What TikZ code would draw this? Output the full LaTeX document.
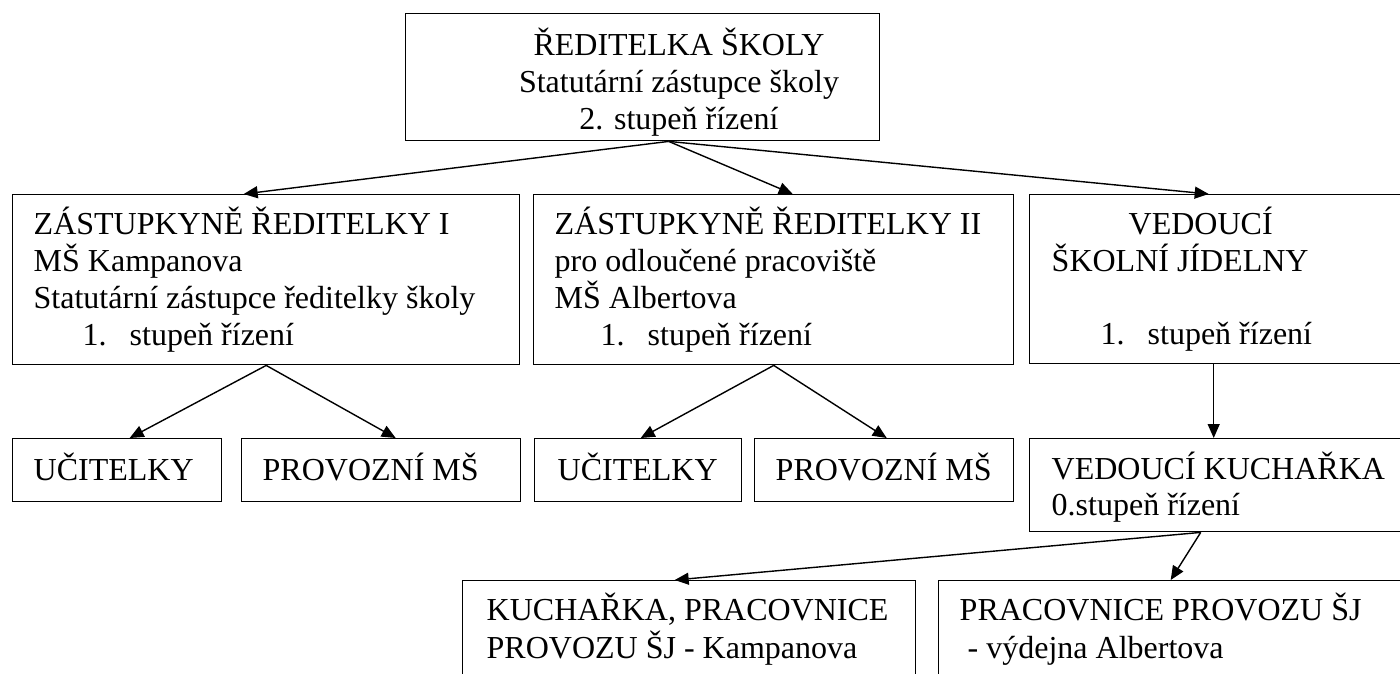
\documentclass[tikz,border=0pt]{standalone}
\usepackage{fontspec}
\setmainfont{Liberation Serif}
\usetikzlibrary{arrows.meta}

\begin{document}
\begin{tikzpicture}
[x=1pt,y=-1pt,line width=1.4pt,>={Triangle[length=14pt,width=12pt]},
 box/.style={draw,rectangle,anchor=north west,inner sep=0pt},
 txt/.style={anchor=base west,inner sep=0pt,font=\fontsize{32}{37}\selectfont}]
\def \step {37} % line distance
\def \num {\makebox[47pt][l]{1.}}
\useasboundingbox (0,0) rectangle (1400,673);
\clip (0,0) rectangle (1400,673);

% boxes
\node[box,minimum width=474pt,minimum height=127pt] (reditelka) at (405,13) {};
\node[box,minimum width=507pt,minimum height=170pt] (zast1) at (12,194) {};
\node[box,minimum width=480pt,minimum height=170pt] (zast2) at (533,194) {};
\node[box,minimum width=420pt,minimum height=169pt] (jidelna) at (1029,194) {};
\node[box,minimum width=209pt,minimum height=63pt] (ucitelky1) at (12,438) {};
\node[box,minimum width=279pt,minimum height=63pt] (provozni1) at (241,438) {};
\node[box,minimum width=207pt,minimum height=63pt] (ucitelky2) at (534,438) {};
\node[box,minimum width=259pt,minimum height=63pt] (provozni2) at (754,438) {};
\node[box,minimum width=420pt,minimum height=93pt] (kucharka) at (1029,438) {};
\node[box,minimum width=453pt,minimum height=120pt] (kuchari) at (462,580) {};
\node[box,minimum width=500pt,minimum height=120pt] (vydejna) at (938,580) {};

% texts
\foreach \t [count=\i] in {ŘEDITELKA ŠKOLY, Statutární zástupce školy, 2. stupeň řízení}
{
  \node[txt,anchor=base] (reditelka\i) at (679,18+\step*\i) {\t};
}
\foreach \t [count=\i] in {ZÁSTUPKYNĚ ŘEDITELKY I, MŠ Kampanova, Statutární zástupce ředitelky školy}
{
  \node[txt] (zast1\i) at (33,197+\step*\i) {\t};
}
\node[txt] (zast14) at (82,345) {\num stupeň řízení};
\foreach \t [count=\i] in {ZÁSTUPKYNĚ ŘEDITELKY II, pro odloučené pracoviště, MŠ Albertova}
{
  \node[txt] (zast2\i) at (554,197+\step*\i) {\t};
}
\node[txt] (zast24) at (600,345) {\num stupeň řízení};
\node[txt] (jidelna1) at (1128,234) {VEDOUCÍ};
\node[txt] (jidelna2) at (1051,271) {ŠKOLNÍ JÍDELNY};
\node[txt] (jidelna3) at (1100,344) {\num stupeň řízení};
\node[txt] (ucitelky1t) at (33,480) {UČITELKY};
\node[txt] (provozni1t) at (262,480) {PROVOZNÍ MŠ};
\node[txt] (ucitelky2t) at (557,480) {UČITELKY};
\node[txt] (provozni2t) at (775,480) {PROVOZNÍ MŠ};
\node[txt] (kucharka1) at (1051,479) {VEDOUCÍ KUCHAŘKA};
\node[txt] (kucharka2) at (1051,515) {0.stupeň řízení};
\node[txt] (kuchari1) at (486,620) {KUCHAŘKA, PRACOVNICE};
\node[txt] (kuchari2) at (486,658) {PROVOZU ŠJ - Kampanova};
\node[txt] (vydejna1) at (959,620) {PRACOVNICE PROVOZU ŠJ};
\node[txt] (vydejna2) at (967,658) {- výdejna Albertova};

% arrows
\draw[->] ([xshift=26pt]reditelka.south) to ([xshift=-22.5pt]zast1.north);
\draw[->] ([xshift=26pt]reditelka.south) to ([xshift=19pt]zast2.north);
\draw[->] ([xshift=26pt]reditelka.south) to ([xshift=-31pt]jidelna.north);
\draw[->] (zast1.south) to ([xshift=12.5pt]ucitelky1.north);
\draw[->] (zast1.south) to ([xshift=14.5pt]provozni1.north);
\draw[->] (zast2.south) to ([xshift=2.5pt]ucitelky2.north);
\draw[->] (zast2.south) to ([xshift=2.5pt]provozni2.north);
\draw[->] ([xshift=-26pt]jidelna.south) to ([xshift=-26pt]kucharka.north);
\draw[->] ([xshift=-39pt]kucharka.south) to ([xshift=-14.5pt]kuchari.north);
\draw[->] ([xshift=-39pt]kucharka.south) to ([xshift=-18pt]vydejna.north);
\end{tikzpicture}
\end{document}
